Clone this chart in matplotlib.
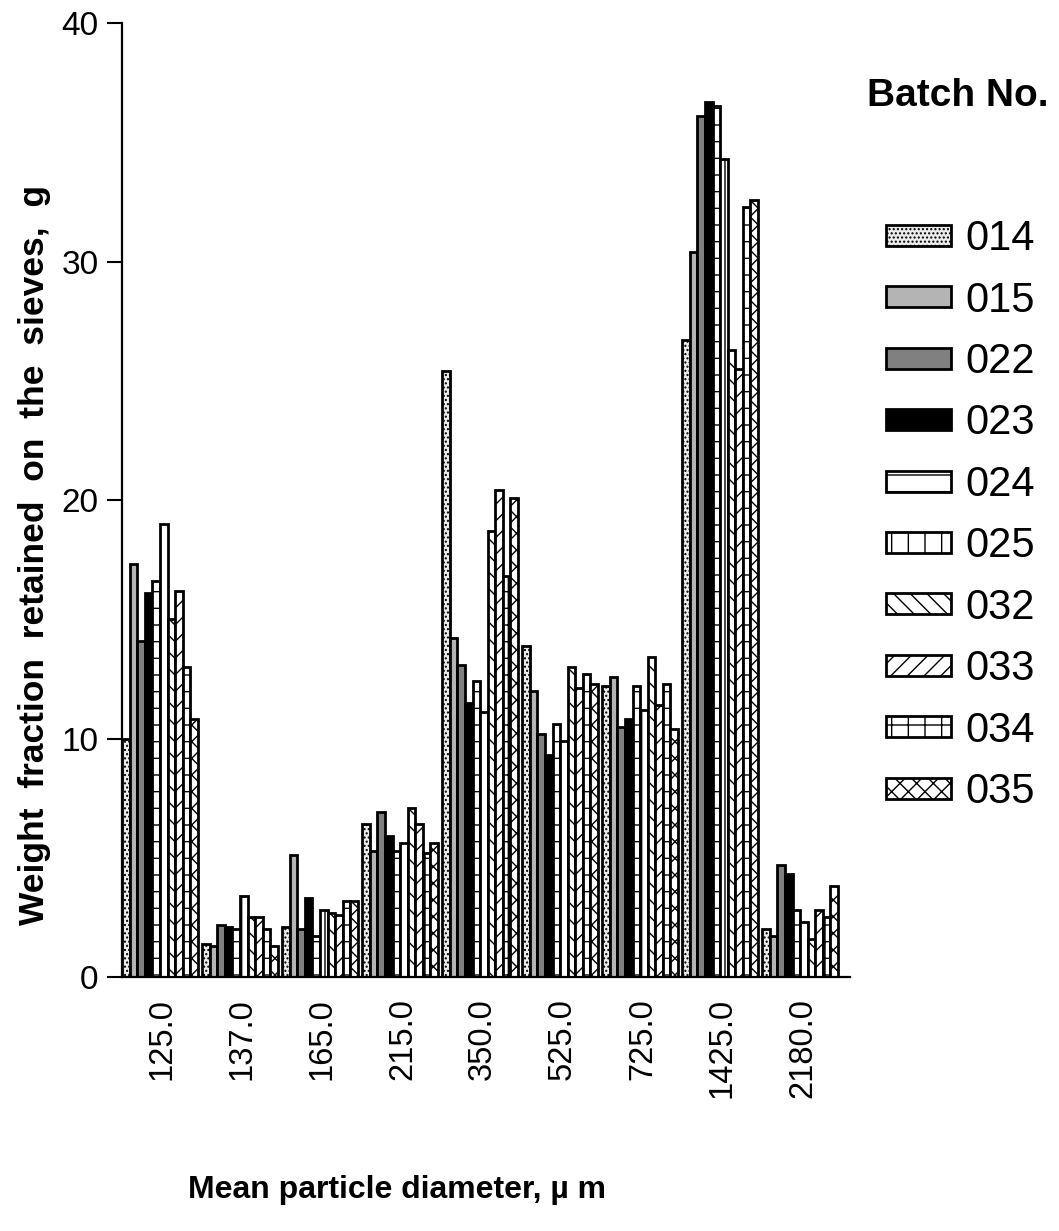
import numpy as np
import matplotlib
matplotlib.use('Agg')
import matplotlib.pyplot as plt

plt.rcParams['font.family'] = ['Liberation Sans', 'DejaVu Sans']
plt.rcParams['hatch.linewidth'] = 1.0

# mean particle diameter classes (x categories)
diameters = ['125.0', '137.0', '165.0', '215.0', '350.0', '525.0', '725.0', '1425.0', '2180.0']
batches = ['014', '015', '022', '023', '024', '025', '032', '033', '034', '035']

# weight retained (g), one list per batch, in diameter order
b014 = [10.0, 1.4, 2.1, 6.4, 25.4, 13.9, 12.2, 26.7, 2.0]
b015 = [17.3, 1.3, 5.1, 5.3, 14.2, 12.0, 12.6, 30.4, 1.7]
b022 = [14.1, 2.2, 2.0, 6.9, 13.1, 10.2, 10.5, 36.1, 4.7]
b023 = [16.1, 2.1, 3.3, 5.9, 11.5, 9.3, 10.8, 36.7, 4.3]
b024 = [16.6, 2.0, 1.7, 5.3, 12.4, 10.6, 12.2, 36.5, 2.8]
b025 = [19.0, 3.4, 2.8, 5.6, 11.1, 9.9, 11.2, 34.3, 2.3]
b032 = [15.0, 2.5, 2.7, 7.1, 18.7, 13.0, 13.4, 26.3, 1.6]
b033 = [16.2, 2.5, 2.6, 6.4, 20.4, 12.1, 11.4, 25.5, 2.8]
b034 = [13.0, 2.0, 3.2, 5.2, 16.8, 12.7, 12.3, 32.3, 2.5]
b035 = [10.8, 1.3, 3.2, 5.6, 20.1, 12.3, 10.4, 32.6, 3.8]
series = [b014, b015, b022, b023, b024, b025, b032, b033, b034, b035]

# fill / hatch for each batch
faces = ['#ececec', '#b4b4b4', '#808080', 'black', 'white', 'white', 'white', 'white', 'white', 'white']
hatches = ['....', None, None, None, '-', '|', '\\\\', '//', '+', 'xx']

fig = plt.figure(figsize=(10.59, 12.31), dpi=100)
ax = fig.add_axes([0.1152, 0.2063, 0.6875, 0.775])

x = np.arange(len(diameters))
w = 0.094
handles = []
for i, vals in enumerate(series):
    bars = ax.bar(x + (i - 4.5) * w, vals, width=w, color=faces[i], edgecolor='black',
                  linewidth=2.0, hatch=hatches[i], label=batches[i])
    handles.append(bars)

ax.set_ylim(0, 40)
ax.set_xlim(-0.475, 8.625)
ax.set_yticks([0, 10, 20, 30, 40])
ax.set_xticks(x + 0.03)
ax.set_xticklabels(diameters, rotation=90, va='top', ha='center')
ax.tick_params(axis='y', direction='out', length=11, width=1.5, labelsize=24, pad=6)
ax.tick_params(axis='x', length=0, labelsize=23.5, pad=15)
ax.spines['top'].set_visible(False)
ax.spines['right'].set_visible(False)
ax.spines['left'].set_linewidth(1.6)
ax.spines['bottom'].set_linewidth(1.6)

fig.text(0.033, 0.549, 'Weight  fraction  retained  on  the  sieves,  g', rotation=90,
         ha='center', va='center', fontsize=25.5, fontweight='bold')
fig.text(0.375, 0.033, 'Mean particle diameter, \u00b5 m', ha='center', va='center',
         fontsize=23, fontweight='bold')

fig.text(0.904, 0.922, 'Batch No.', ha='center', va='center', fontsize=28, fontweight='bold')
fig.legend(handles=handles, labels=batches, loc='upper left',
           bbox_to_anchor=(0.837, 0.822), frameon=False, fontsize=30,
           handlelength=1.55, handleheight=0.4, handletextpad=0.35,
           labelspacing=0.515, borderpad=0, borderaxespad=0)

fig.savefig('out.png', dpi=100)
